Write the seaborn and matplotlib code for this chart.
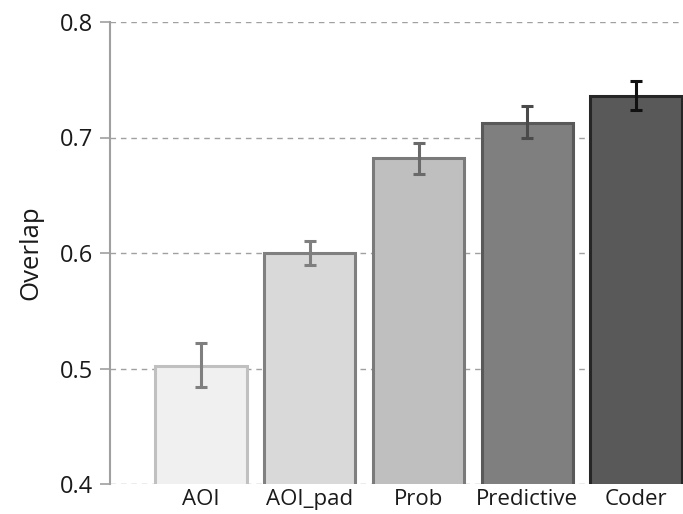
import matplotlib
matplotlib.use("Agg")
import matplotlib.pyplot as plt
import seaborn as sns
import pandas as pd

categories = ["AOI", "AOI_pad", "Prob", "Predictive", "Coder"]
overlap = [0.502, 0.600, 0.682, 0.7125, 0.736]
err_low = [0.484, 0.590, 0.668, 0.700, 0.724]
err_high = [0.522, 0.610, 0.695, 0.727, 0.749]
y_ticks = [0.4, 0.5, 0.6, 0.7, 0.8]

fills = ["#f0f0f0", "#d9d9d9", "#bfbfbf", "#7f7f7f", "#595959"]
edges = ["#c0c0c0", "#808080", "#7a7a7a", "#595959", "#262626"]
err_colors = ["#7f7f7f", "#7f7f7f", "#6a6a6a", "#4a4a4a", "#111111"]

sns.set_theme(style="white")
plt.rcParams["font.family"] = ["Open Sans", "DejaVu Sans"]

df = pd.DataFrame({"cat": categories, "val": overlap})

fig = plt.figure(figsize=(6.83, 5.14), dpi=100)
ax = fig.add_axes([110 / 683, 1 - 484 / 514, 1 - 110 / 683, (484 - 22) / 514])

sns.barplot(data=df, x="cat", y="val", hue="cat", palette=fills, legend=False,
            width=0.84, errorbar=None, ax=ax, zorder=3)
for patch, ec in zip(ax.patches, edges):
    patch.set_edgecolor(ec)
    patch.set_linewidth(2.2)

for i, (v, lo, hi, c) in enumerate(zip(overlap, err_low, err_high, err_colors)):
    ax.errorbar(i, v, yerr=[[v - lo], [hi - v]], fmt="none", ecolor=c,
                elinewidth=2.2, capsize=4.5, capthick=2.2, zorder=4)

ax.set_ylim(0.4, 0.8)
ax.set_xlim(-0.835, 4.43)
ax.set_yticks(y_ticks)
ax.set_yticklabels([f"{t:.1f}" for t in y_ticks])
ax.yaxis.grid(True, linestyle=(0, (4, 3.5)), color="#a0a0a0", linewidth=1.0)
ax.set_axisbelow(True)

for s in ["top", "right", "bottom"]:
    ax.spines[s].set_visible(False)
ax.spines["left"].set_color("#a0a0a0")
ax.spines["left"].set_linewidth(1.5)

ax.tick_params(axis="y", which="both", left=True, length=7, width=1.2,
               color="#a0a0a0", labelsize=17, labelcolor="#1a1a1a", pad=5)
ax.tick_params(axis="x", bottom=False, length=0, labelsize=16, labelcolor="#1a1a1a", pad=3.5)
ax.set_xlabel("")
ax.set_ylabel("Overlap", fontsize=18.5, color="#1a1a1a", labelpad=12)

fig.savefig("out.png", dpi=100)
